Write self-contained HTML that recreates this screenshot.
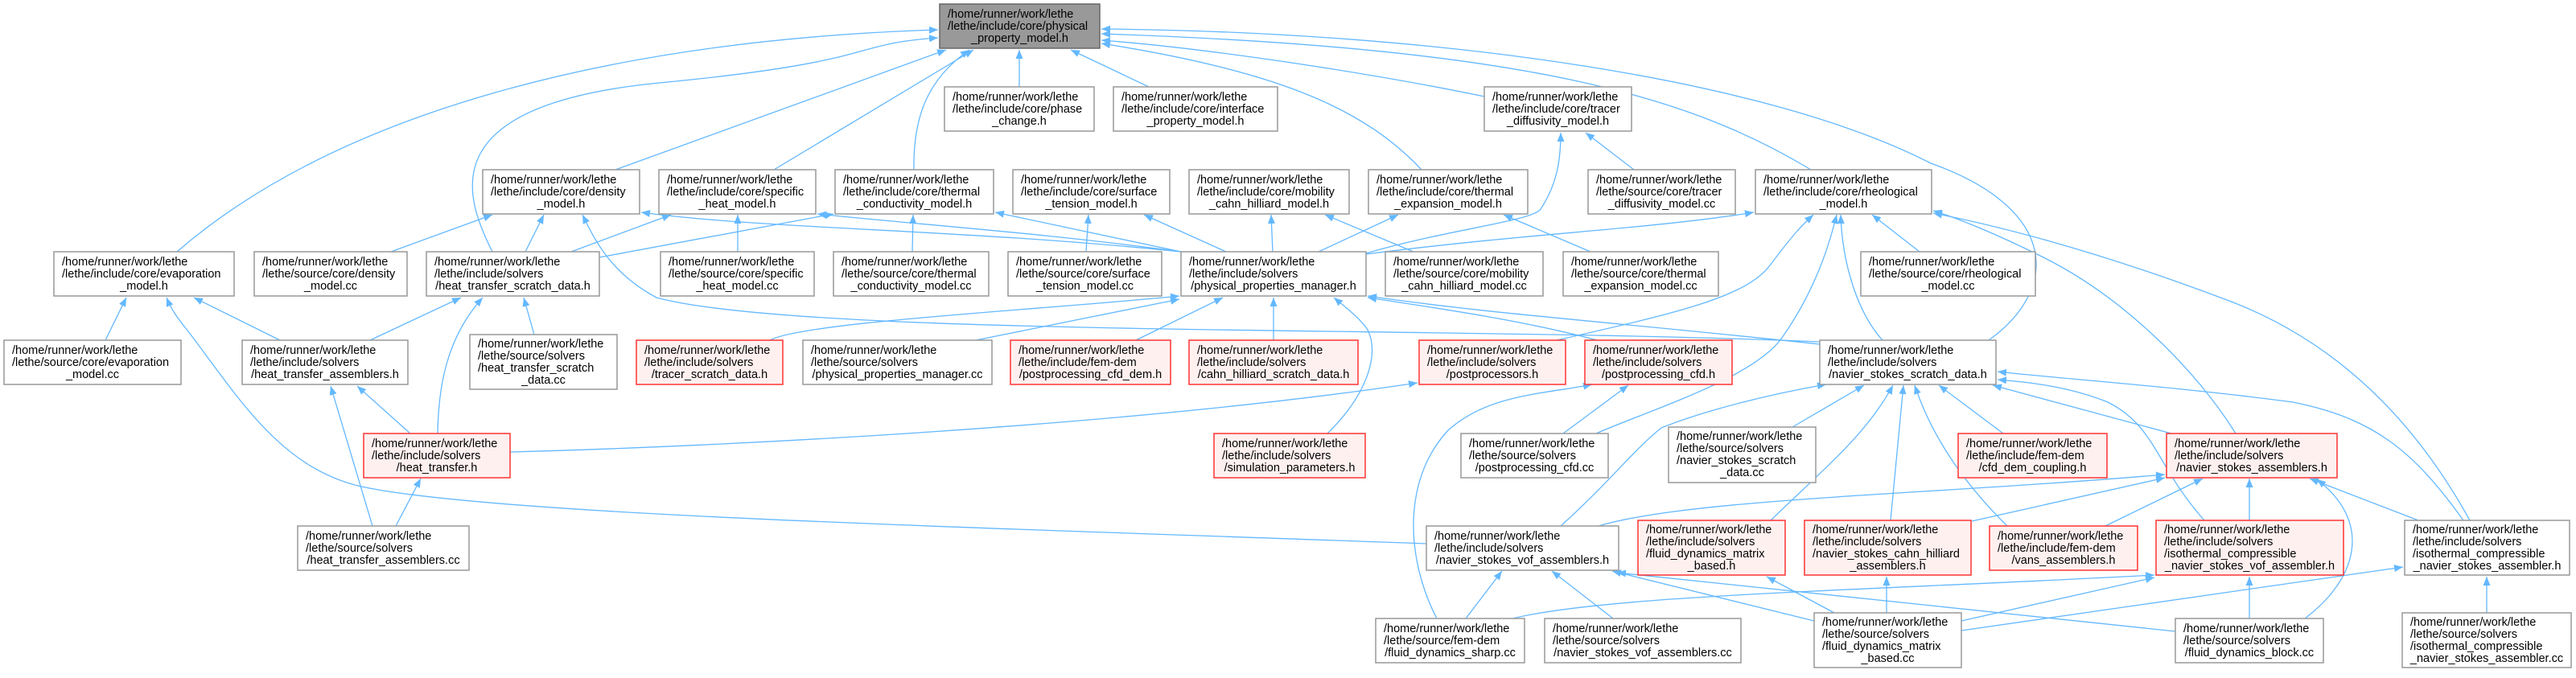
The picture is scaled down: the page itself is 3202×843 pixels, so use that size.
<!DOCTYPE html>
<html><head><meta charset="utf-8"><style>
html,body{margin:0;padding:0;background:#fff;}
svg{display:block;}
.n{fill:#fff;stroke:#999;stroke-width:1.5}
.r{fill:#fff0f0;stroke:#f33;stroke-width:1.5}
.g{fill:#999;stroke:#666;stroke-width:1.5}
text{font-family:"Liberation Sans",sans-serif;font-size:14.5px;fill:#000}
.c{text-anchor:middle}
.e{fill:none;stroke:#63b8ff;stroke-width:1.3;marker-end:url(#a)}
</style></head><body>
<svg width="3202" height="843" viewBox="0 0 3202 843" xmlns="http://www.w3.org/2000/svg">
<defs><marker id="a" markerWidth="12" markerHeight="10" refX="11" refY="5" orient="auto" markerUnits="userSpaceOnUse"><path d="M0,0.5 L11,5 L0,9.5z" fill="#63b8ff"/></marker></defs>
<g>
<path class="e" d="M220,313 C420,140 760,50 1166,37"/>
<path class="e" d="M612,313 C575,240 540,130 820,103 S1050,55 1166,47"/>
<path class="e" d="M765,211 L1176,62"/>
<path class="e" d="M962,211 L1210,62"/>
<path class="e" d="M1136,211 C1135,150 1150,100 1205,62"/>
<path class="e" d="M1267,108 L1267,62"/>
<path class="e" d="M1428,108 L1331,62"/>
<path class="e" d="M1845,120 C1700,90 1500,60 1369,50"/>
<path class="e" d="M1767,211 C1700,140 1600,90 1369,54"/>
<path class="e" d="M2251,211 C2100,120 1900,60 1369,42"/>
<path class="e" d="M2472,423 C2560,360 2560,260 2400,203 C2200,100 1800,40 1369,36"/>
<path class="e" d="M653,313 L676,267"/>
<path class="e" d="M486,313 L612,267"/>
<path class="e" d="M2262,425 C1800,405 1000,420 816,370 C760,340 740,300 724,267"/>
<path class="e" d="M1468,313 C1200,285 950,285 797,264"/>
<path class="e" d="M710,313 L834,267"/>
<path class="e" d="M1468,313 C1300,290 1150,280 1016,266"/>
<path class="e" d="M745,320 L1036,266"/>
<path class="e" d="M1468,313 L1237,264"/>
<path class="e" d="M1134,313 L1135,267"/>
<path class="e" d="M917,313 L917,267"/>
<path class="e" d="M1350,313 L1353,267"/>
<path class="e" d="M1524,313 L1422,267"/>
<path class="e" d="M1582,313 L1580,267"/>
<path class="e" d="M1757,313 L1647,267"/>
<path class="e" d="M1639,313 L1738,267"/>
<path class="e" d="M1977,313 L1869,267"/>
<path class="e" d="M2031,211 L1971,165"/>
<path class="e" d="M1698,315 C1800,285 1905,275 1915,260 C1935,230 1940,200 1940,165"/>
<path class="e" d="M2386,313 L2327,267"/>
<path class="e" d="M1698,316 C1900,290 2050,285 2180,264"/>
<path class="e" d="M1935,423 C2080,390 2170,370 2200,330 C2230,290 2240,280 2254,267"/>
<path class="e" d="M1984,539 C2050,510 2180,470 2215,420 C2250,370 2270,320 2283,267"/>
<path class="e" d="M2340,423 C2310,390 2290,330 2288,267"/>
<path class="e" d="M2779,539 C2730,460 2640,370 2540,320 C2480,290 2430,270 2403,262"/>
<path class="e" d="M3070,647 C3000,520 2900,420 2760,370 C2600,310 2480,280 2403,265"/>
<path class="e" d="M348,423 L241,370"/>
<path class="e" d="M131,423 L157,370"/>
<path class="e" d="M1773,676 C1200,655 600,640 445,604 C350,580 300,500 240,420 C225,400 215,390 207,370"/>
<path class="e" d="M460,423 L573,370"/>
<path class="e" d="M544,539 C545,480 555,420 600,370"/>
<path class="e" d="M664,416 L651,370"/>
<path class="e" d="M510,539 L444,480"/>
<path class="e" d="M463,654 L411,480"/>
<path class="e" d="M492,654 L523,595"/>
<path class="e" d="M634,562 C900,555 1400,530 1762,476"/>
<path class="e" d="M957,423 C1000,400 1300,385 1466,368"/>
<path class="e" d="M1213,423 L1466,372"/>
<path class="e" d="M1412,423 L1520,370"/>
<path class="e" d="M1583,423 L1583,370"/>
<path class="e" d="M1650,539 C1700,490 1715,440 1700,410 C1690,395 1670,380 1658,370"/>
<path class="e" d="M2262,428 C2000,400 1850,390 1700,368"/>
<path class="e" d="M1985,423 C1900,400 1800,385 1700,370"/>
<path class="e" d="M1943,539 L2024,479"/>
<path class="e" d="M1786,769 C1750,700 1740,600 1800,535 C1850,490 1920,490 1979,478"/>
<path class="e" d="M2228,531 L2317,479"/>
<path class="e" d="M1940,654 C2000,600 2030,560 2065,532 C2120,510 2200,490 2270,478"/>
<path class="e" d="M2201,647 C2270,580 2320,540 2353,479"/>
<path class="e" d="M2350,647 L2366,479"/>
<path class="e" d="M2495,654 C2440,600 2400,540 2380,479"/>
<path class="e" d="M2490,539 L2410,479"/>
<path class="e" d="M2699,539 L2477,479"/>
<path class="e" d="M2740,647 C2680,580 2680,530 2620,500 C2570,480 2520,475 2483,472"/>
<path class="e" d="M3062,647 C3000,560 2950,520 2850,500 C2700,480 2550,470 2483,462"/>
<path class="e" d="M1987,654 C2100,620 2400,615 2691,590"/>
<path class="e" d="M2451,648 L2691,594"/>
<path class="e" d="M2617,654 L2738,595"/>
<path class="e" d="M2796,647 L2796,595"/>
<path class="e" d="M3006,647 L2871,595"/>
<path class="e" d="M2865,769 C2930,720 2950,650 2880,596"/>
<path class="e" d="M1880,769 C2000,740 2300,735 2678,715"/>
<path class="e" d="M2438,772 L2678,718"/>
<path class="e" d="M2796,769 L2796,717"/>
<path class="e" d="M2438,784 L2987,705"/>
<path class="e" d="M3091,762 L3091,717"/>
<path class="e" d="M1822,769 L1867,710"/>
<path class="e" d="M2005,769 L1929,710"/>
<path class="e" d="M2255,772 L2004,710"/>
<path class="e" d="M2704,785 C2500,765 2200,730 2010,712"/>
<path class="e" d="M2280,762 L2196,717"/>
<path class="e" d="M2345,762 L2345,717"/>
</g>
<g>
<rect class="g" x="1168" y="5" width="199" height="55"/><text x="1178" y="22">/home/runner/work/lethe</text><text x="1178" y="37">/lethe/include/core/physical</text><text class="c" x="1267.5" y="52">_property_model.h</text>
<rect class="n" x="1174" y="108" width="186" height="55"/><text x="1184" y="125">/home/runner/work/lethe</text><text x="1184" y="140">/lethe/include/core/phase</text><text class="c" x="1267" y="155">_change.h</text>
<rect class="n" x="1384" y="108" width="204" height="55"/><text x="1394" y="125">/home/runner/work/lethe</text><text x="1394" y="140">/lethe/include/core/interface</text><text class="c" x="1486" y="155">_property_model.h</text>
<rect class="n" x="1845" y="108" width="183" height="55"/><text x="1855" y="125">/home/runner/work/lethe</text><text x="1855" y="140">/lethe/include/core/tracer</text><text class="c" x="1936.5" y="155">_diffusivity_model.h</text>
<rect class="n" x="600" y="211" width="195" height="55"/><text x="610" y="228">/home/runner/work/lethe</text><text x="610" y="243">/lethe/include/core/density</text><text class="c" x="697.5" y="258">_model.h</text>
<rect class="n" x="819" y="211" width="195" height="55"/><text x="829" y="228">/home/runner/work/lethe</text><text x="829" y="243">/lethe/include/core/specific</text><text class="c" x="916.5" y="258">_heat_model.h</text>
<rect class="n" x="1038" y="211" width="197" height="55"/><text x="1048" y="228">/home/runner/work/lethe</text><text x="1048" y="243">/lethe/include/core/thermal</text><text class="c" x="1136.5" y="258">_conductivity_model.h</text>
<rect class="n" x="1259" y="211" width="195" height="55"/><text x="1269" y="228">/home/runner/work/lethe</text><text x="1269" y="243">/lethe/include/core/surface</text><text class="c" x="1356.5" y="258">_tension_model.h</text>
<rect class="n" x="1478" y="211" width="199" height="55"/><text x="1488" y="228">/home/runner/work/lethe</text><text x="1488" y="243">/lethe/include/core/mobility</text><text class="c" x="1577.5" y="258">_cahn_hilliard_model.h</text>
<rect class="n" x="1701" y="211" width="198" height="55"/><text x="1711" y="228">/home/runner/work/lethe</text><text x="1711" y="243">/lethe/include/core/thermal</text><text class="c" x="1800" y="258">_expansion_model.h</text>
<rect class="n" x="1974" y="211" width="183" height="55"/><text x="1984" y="228">/home/runner/work/lethe</text><text x="1984" y="243">/lethe/source/core/tracer</text><text class="c" x="2065.5" y="258">_diffusivity_model.cc</text>
<rect class="n" x="2182" y="211" width="219" height="55"/><text x="2192" y="228">/home/runner/work/lethe</text><text x="2192" y="243">/lethe/include/core/rheological</text><text class="c" x="2291.5" y="258">_model.h</text>
<rect class="n" x="67" y="313" width="224" height="55"/><text x="77" y="330">/home/runner/work/lethe</text><text x="77" y="345">/lethe/include/core/evaporation</text><text class="c" x="179" y="360">_model.h</text>
<rect class="n" x="316" y="313" width="190" height="55"/><text x="326" y="330">/home/runner/work/lethe</text><text x="326" y="345">/lethe/source/core/density</text><text class="c" x="411" y="360">_model.cc</text>
<rect class="n" x="530" y="313" width="215" height="55"/><text x="540" y="330">/home/runner/work/lethe</text><text x="540" y="345">/lethe/include/solvers</text><text class="c" x="637.5" y="360">/heat_transfer_scratch_data.h</text>
<rect class="n" x="821" y="313" width="191" height="55"/><text x="831" y="330">/home/runner/work/lethe</text><text x="831" y="345">/lethe/source/core/specific</text><text class="c" x="916.5" y="360">_heat_model.cc</text>
<rect class="n" x="1036" y="313" width="193" height="55"/><text x="1046" y="330">/home/runner/work/lethe</text><text x="1046" y="345">/lethe/source/core/thermal</text><text class="c" x="1132.5" y="360">_conductivity_model.cc</text>
<rect class="n" x="1253" y="313" width="191" height="55"/><text x="1263" y="330">/home/runner/work/lethe</text><text x="1263" y="345">/lethe/source/core/surface</text><text class="c" x="1348.5" y="360">_tension_model.cc</text>
<rect class="n" x="1468" y="313" width="230" height="55"/><text x="1478" y="330">/home/runner/work/lethe</text><text x="1478" y="345">/lethe/include/solvers</text><text class="c" x="1583" y="360">/physical_properties_manager.h</text>
<rect class="n" x="1722" y="313" width="196" height="55"/><text x="1732" y="330">/home/runner/work/lethe</text><text x="1732" y="345">/lethe/source/core/mobility</text><text class="c" x="1820" y="360">_cahn_hilliard_model.cc</text>
<rect class="n" x="1943" y="313" width="193" height="55"/><text x="1953" y="330">/home/runner/work/lethe</text><text x="1953" y="345">/lethe/source/core/thermal</text><text class="c" x="2039.5" y="360">_expansion_model.cc</text>
<rect class="n" x="2313" y="313" width="217" height="55"/><text x="2323" y="330">/home/runner/work/lethe</text><text x="2323" y="345">/lethe/source/core/rheological</text><text class="c" x="2421.5" y="360">_model.cc</text>
<rect class="n" x="5" y="423" width="220" height="55"/><text x="15" y="440">/home/runner/work/lethe</text><text x="15" y="455">/lethe/source/core/evaporation</text><text class="c" x="115" y="470">_model.cc</text>
<rect class="n" x="301" y="423" width="206" height="55"/><text x="311" y="440">/home/runner/work/lethe</text><text x="311" y="455">/lethe/include/solvers</text><text class="c" x="404" y="470">/heat_transfer_assemblers.h</text>
<rect class="n" x="584" y="416" width="183" height="68"/><text x="594" y="432">/home/runner/work/lethe</text><text x="594" y="447">/lethe/source/solvers</text><text x="594" y="462">/heat_transfer_scratch</text><text class="c" x="675.5" y="477">_data.cc</text>
<rect class="r" x="791" y="423" width="182" height="55"/><text x="801" y="440">/home/runner/work/lethe</text><text x="801" y="455">/lethe/include/solvers</text><text class="c" x="882" y="470">/tracer_scratch_data.h</text>
<rect class="n" x="998" y="423" width="235" height="55"/><text x="1008" y="440">/home/runner/work/lethe</text><text x="1008" y="455">/lethe/source/solvers</text><text class="c" x="1115.5" y="470">/physical_properties_manager.cc</text>
<rect class="r" x="1256" y="423" width="199" height="55"/><text x="1266" y="440">/home/runner/work/lethe</text><text x="1266" y="455">/lethe/include/fem-dem</text><text class="c" x="1355.5" y="470">/postprocessing_cfd_dem.h</text>
<rect class="r" x="1478" y="423" width="210" height="55"/><text x="1488" y="440">/home/runner/work/lethe</text><text x="1488" y="455">/lethe/include/solvers</text><text class="c" x="1583" y="470">/cahn_hilliard_scratch_data.h</text>
<rect class="r" x="1764" y="423" width="182" height="55"/><text x="1774" y="440">/home/runner/work/lethe</text><text x="1774" y="455">/lethe/include/solvers</text><text class="c" x="1855" y="470">/postprocessors.h</text>
<rect class="r" x="1970" y="423" width="183" height="55"/><text x="1980" y="440">/home/runner/work/lethe</text><text x="1980" y="455">/lethe/include/solvers</text><text class="c" x="2061.5" y="470">/postprocessing_cfd.h</text>
<rect class="n" x="2262" y="423" width="219" height="55"/><text x="2272" y="440">/home/runner/work/lethe</text><text x="2272" y="455">/lethe/include/solvers</text><text class="c" x="2371.5" y="470">/navier_stokes_scratch_data.h</text>
<rect class="r" x="452" y="539" width="182" height="55"/><text x="462" y="556">/home/runner/work/lethe</text><text x="462" y="571">/lethe/include/solvers</text><text class="c" x="543" y="586">/heat_transfer.h</text>
<rect class="r" x="1509" y="539" width="188" height="55"/><text x="1519" y="556">/home/runner/work/lethe</text><text x="1519" y="571">/lethe/include/solvers</text><text class="c" x="1603" y="586">/simulation_parameters.h</text>
<rect class="n" x="1816" y="539" width="183" height="55"/><text x="1826" y="556">/home/runner/work/lethe</text><text x="1826" y="571">/lethe/source/solvers</text><text class="c" x="1907.5" y="586">/postprocessing_cfd.cc</text>
<rect class="n" x="2074" y="531" width="183" height="69"/><text x="2084" y="547">/home/runner/work/lethe</text><text x="2084" y="562">/lethe/source/solvers</text><text x="2084" y="577">/navier_stokes_scratch</text><text class="c" x="2165.5" y="592">_data.cc</text>
<rect class="r" x="2434" y="539" width="185" height="55"/><text x="2444" y="556">/home/runner/work/lethe</text><text x="2444" y="571">/lethe/include/fem-dem</text><text class="c" x="2526.5" y="586">/cfd_dem_coupling.h</text>
<rect class="r" x="2693" y="539" width="212" height="55"/><text x="2703" y="556">/home/runner/work/lethe</text><text x="2703" y="571">/lethe/include/solvers</text><text class="c" x="2799" y="586">/navier_stokes_assemblers.h</text>
<rect class="n" x="370" y="654" width="213" height="55"/><text x="380" y="671">/home/runner/work/lethe</text><text x="380" y="686">/lethe/source/solvers</text><text class="c" x="476.5" y="701">/heat_transfer_assemblers.cc</text>
<rect class="n" x="1773" y="654" width="239" height="55"/><text x="1783" y="671">/home/runner/work/lethe</text><text x="1783" y="686">/lethe/include/solvers</text><text class="c" x="1892.5" y="701">/navier_stokes_vof_assemblers.h</text>
<rect class="r" x="2036" y="647" width="183" height="68"/><text x="2046" y="663">/home/runner/work/lethe</text><text x="2046" y="678">/lethe/include/solvers</text><text x="2046" y="693">/fluid_dynamics_matrix</text><text class="c" x="2127.5" y="708">_based.h</text>
<rect class="r" x="2243" y="647" width="207" height="68"/><text x="2253" y="663">/home/runner/work/lethe</text><text x="2253" y="678">/lethe/include/solvers</text><text x="2253" y="693">/navier_stokes_cahn_hilliard</text><text class="c" x="2346.5" y="708">_assemblers.h</text>
<rect class="r" x="2473" y="654" width="184" height="55"/><text x="2483" y="671">/home/runner/work/lethe</text><text x="2483" y="686">/lethe/include/fem-dem</text><text class="c" x="2565" y="701">/vans_assemblers.h</text>
<rect class="r" x="2680" y="647" width="233" height="68"/><text x="2690" y="663">/home/runner/work/lethe</text><text x="2690" y="678">/lethe/include/solvers</text><text x="2690" y="693">/isothermal_compressible</text><text class="c" x="2796.5" y="708">_navier_stokes_vof_assembler.h</text>
<rect class="n" x="2989" y="647" width="205" height="68"/><text x="2999" y="663">/home/runner/work/lethe</text><text x="2999" y="678">/lethe/include/solvers</text><text x="2999" y="693">/isothermal_compressible</text><text class="c" x="3091.5" y="708">_navier_stokes_assembler.h</text>
<rect class="n" x="1710" y="769" width="185" height="55"/><text x="1720" y="786">/home/runner/work/lethe</text><text x="1720" y="801">/lethe/source/fem-dem</text><text class="c" x="1802.5" y="816">/fluid_dynamics_sharp.cc</text>
<rect class="n" x="1920" y="769" width="244" height="55"/><text x="1930" y="786">/home/runner/work/lethe</text><text x="1930" y="801">/lethe/source/solvers</text><text class="c" x="2042" y="816">/navier_stokes_vof_assemblers.cc</text>
<rect class="n" x="2255" y="762" width="183" height="68"/><text x="2265" y="778">/home/runner/work/lethe</text><text x="2265" y="793">/lethe/source/solvers</text><text x="2265" y="808">/fluid_dynamics_matrix</text><text class="c" x="2346.5" y="823">_based.cc</text>
<rect class="n" x="2704" y="769" width="184" height="55"/><text x="2714" y="786">/home/runner/work/lethe</text><text x="2714" y="801">/lethe/source/solvers</text><text class="c" x="2796" y="816">/fluid_dynamics_block.cc</text>
<rect class="n" x="2986" y="762" width="210" height="68"/><text x="2996" y="778">/home/runner/work/lethe</text><text x="2996" y="793">/lethe/source/solvers</text><text x="2996" y="808">/isothermal_compressible</text><text class="c" x="3091" y="823">_navier_stokes_assembler.cc</text>
</g>
</svg>
</body></html>
